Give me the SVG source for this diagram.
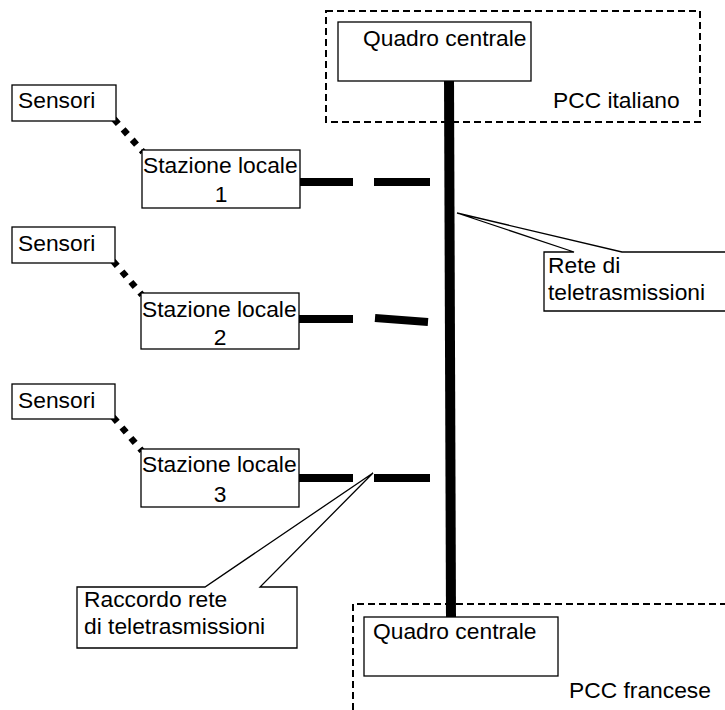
<svg xmlns="http://www.w3.org/2000/svg" width="725" height="710" viewBox="0 0 725 710">
  <style>
    text { font-family: "Liberation Sans", Arial, sans-serif; font-size: 22.8px; fill: #000; }
    .box { fill: #fff; stroke: #000; stroke-width: 1.3; }
    .zone { fill: none; stroke: #000; stroke-width: 2; stroke-dasharray: 7 4; }
    .bus { stroke: #000; stroke-width: 10; fill: none; }
    .link { stroke: #000; stroke-width: 8; fill: none; }
    .sense { stroke: #000; stroke-width: 6.5; stroke-dasharray: 6.5 7.3; fill: none; }
    .callout { fill: #fff; stroke: #000; stroke-width: 1.3; stroke-linejoin: miter; }
  </style>
  <rect width="725" height="710" fill="#fff"/>

  <!-- control-centre zones -->
  <g id="pcc-italiano">
    <rect class="zone" x="326" y="11" width="374" height="111"/>
    <text x="553" y="108">PCC italiano</text>
  </g>
  <g id="pcc-francese">
    <path class="zone" d="M353,710 V604 H730"/>
    <text x="569" y="698">PCC francese</text>
  </g>

  <!-- connectors -->
  <g id="connectors">
    <line class="bus" x1="449" y1="76" x2="451" y2="620"/>
    <line class="link" x1="298" y1="182" x2="353" y2="182"/>
    <line class="link" x1="374" y1="182" x2="430" y2="182"/>
    <line class="link" x1="298" y1="319" x2="353" y2="319"/>
    <line class="link" x1="375" y1="318" x2="428" y2="322"/>
    <line class="link" x1="298" y1="478" x2="353" y2="478"/>
    <line class="link" x1="374" y1="478" x2="430" y2="478"/>
    <line class="sense" x1="114" y1="119" x2="143" y2="152"/>
    <line class="sense" x1="113" y1="261" x2="142" y2="295"/>
    <line class="sense" x1="113" y1="417" x2="142" y2="451"/>
  </g>

  <!-- central panels -->
  <g id="quadro-it">
    <rect class="box" x="338" y="22" width="193" height="59"/>
    <text x="363" y="46">Quadro centrale</text>
  </g>
  <g id="quadro-fr">
    <rect class="box" x="364" y="617" width="194" height="59"/>
    <text x="373" y="639">Quadro centrale</text>
  </g>

  <!-- sensors -->
  <g id="sensori-1">
    <rect class="box" x="12" y="85" width="104" height="36"/>
    <text x="18" y="108">Sensori</text>
  </g>
  <g id="sensori-2">
    <rect class="box" x="12" y="227" width="103" height="36"/>
    <text x="18" y="251">Sensori</text>
  </g>
  <g id="sensori-3">
    <rect class="box" x="12" y="384" width="103" height="35"/>
    <text x="18" y="408">Sensori</text>
  </g>

  <!-- local stations -->
  <g id="stazione-1">
    <rect class="box" x="142" y="150" width="158" height="58"/>
    <text x="143" y="173">Stazione locale</text>
    <text x="221" y="202" text-anchor="middle">1</text>
  </g>
  <g id="stazione-2">
    <rect class="box" x="141" y="293" width="158" height="56"/>
    <text x="142" y="317">Stazione locale</text>
    <text x="220" y="345" text-anchor="middle">2</text>
  </g>
  <g id="stazione-3">
    <rect class="box" x="141" y="449" width="158" height="58"/>
    <text x="142" y="472">Stazione locale</text>
    <text x="220" y="502" text-anchor="middle">3</text>
  </g>

  <!-- callouts -->
  <g id="rete-callout">
    <polygon class="callout" points="544,252 574,252 457,213 622,252 730,252 730,311 544,311"/>
    <text x="548" y="273">Rete di</text>
    <text x="548" y="300">teletrasmissioni</text>
  </g>
  <g id="raccordo-callout">
    <polygon class="callout" points="77,587 205,587 373,473 260,587 297,587 297,648 77,648"/>
    <text x="84" y="607">Raccordo rete</text>
    <text x="84" y="634">di teletrasmissioni</text>
  </g>
</svg>
